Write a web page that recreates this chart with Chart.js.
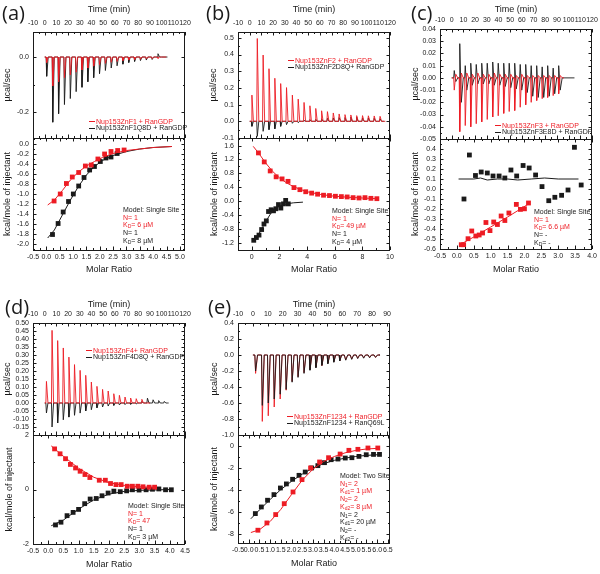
<!DOCTYPE html>
<html>
<head>
<meta charset="utf-8">
<script src="https://cdn.jsdelivr.net/npm/chart.js@4.4.1/dist/chart.umd.min.js"></script>
<style>
    body { margin: 0; background: #fff; }
    #fig { position: relative; width: 600px; height: 574px; overflow: hidden; font-family: 'Liberation Sans', Arial, sans-serif; color: #1a1a1a; }
    #fig canvas { position: absolute; left: 0; top: 0; }
    .tag { position: absolute; font-family: 'Open Sans', sans-serif; font-size: 20px; line-height: 22px; }
    .leg { position: absolute; font-size: 7px; line-height: 6.7px; white-space: nowrap; }
    .leg i { display: inline-block; width: 6px; height: 1.2px; vertical-align: middle; margin-right: 1px; }
    .note { position: absolute; font-size: 7px; line-height: 7.7px; white-space: nowrap; }
    .note sub { font-size: 5px; line-height: 0; vertical-align: -1px; }
    .r { color: #ed1c24; }
</style>
</head>
<body>
<div id="fig"></div>
<script>
// ---- shared tick labels ----
const timeTicks = [-10, 0, 10, 20, 30, 40, 50, 60, 70, 80, 90, 100, 110, 120];
const timeTicksE = [-10, 0, 10, 20, 30, 40, 50, 60, 70, 80, 90];

// ---- (a) Nup153ZnF1 ----
const aTimes = [1.2, 6.4, 11.4, 16.4, 21.4, 26.4, 31.4, 36.4, 41.4, 46.4, 51.4, 56.4, 61.4, 66.4, 71.4, 76.4, 81.4, 86.4, 91.4, 96.4];
const aRedPeaks = [-0.02, -0.105, -0.09, -0.075, -0.065, -0.055, -0.047, -0.04, -0.033, -0.028, -0.023, -0.019, -0.016, -0.013, -0.011, -0.009, -0.008, -0.007, -0.006, -0.005];
const aBlackPeaks = [-0.07, -0.237, -0.206, -0.173, -0.151, -0.126, -0.11, -0.09, -0.075, -0.061, -0.049, -0.04, -0.032, -0.026, -0.02, -0.016, -0.013, -0.011, -0.009, 0.012];
const aRedRatio = [0.29, 0.52, 0.75, 0.97, 1.21, 1.46, 1.68, 1.93, 2.18, 2.42, 2.67, 2.91];
const aRedHeat = [-1.14, -1.0, -0.79, -0.66, -0.57, -0.44, -0.42, -0.30, -0.20, -0.15, -0.13, -0.12];
const aBlackRatio = [0.23, 0.44, 0.63, 0.83, 1.01, 1.21, 1.41, 1.62, 1.80, 2.02, 2.23, 2.42, 2.65];
const aBlackHeat = [-1.81, -1.59, -1.36, -1.15, -1.0, -0.84, -0.67, -0.52, -0.45, -0.35, -0.28, -0.26, -0.19];
const aRedFitX = [0.05, 0.3, 0.6, 0.9, 1.2, 1.5, 1.8, 2.1, 2.5, 3.0, 3.5, 4.0, 4.7];
const aRedFitY = [-1.22, -1.12, -0.93, -0.72, -0.56, -0.44, -0.35, -0.27, -0.19, -0.13, -0.10, -0.07, -0.05];
const aBlackFitX = [0.05, 0.3, 0.6, 0.9, 1.2, 1.5, 1.8, 2.1, 2.5, 3.0, 3.5, 4.0, 4.7];
const aBlackFitY = [-1.88, -1.72, -1.42, -1.12, -0.85, -0.62, -0.45, -0.33, -0.23, -0.15, -0.10, -0.07, -0.05];

// ---- (b) Nup153ZnF2 ----
const bTimes = [1.4, 6, 11, 16, 21, 26, 31, 36, 41, 46, 51, 56, 61, 66, 71, 76, 81, 86, 91, 96, 101, 106, 111];
const bRedPeaks = [0.157, 0.496, 0.397, 0.315, 0.258, 0.226, 0.202, 0.157, 0.133, 0.113, 0.093, 0.077, 0.063, 0.058, 0.05, 0.044, 0.04, 0.038, 0.034, 0.034, 0.033, 0.032, 0.03];
const bBlackPeaks = [-0.03, -0.09, -0.06, -0.05, -0.045, -0.03, -0.02, -0.012, -0.008, 0.005, 0.01, 0.012, 0.015, 0.018, 0.02, 0.022, 0.022, 0.025, 0.025, 0.02, 0.02, 0.018, 0.015];
const bRedRatio = [0.48, 0.9, 1.33, 1.76, 2.19, 2.62, 3.05, 3.48, 3.9, 4.33, 4.76, 5.19, 5.62, 6.05, 6.48, 6.9, 7.33, 7.76, 8.19, 8.62, 9.05];
const bRedHeat = [1.39, 1.13, 0.87, 0.70, 0.64, 0.57, 0.39, 0.33, 0.27, 0.23, 0.20, 0.17, 0.16, 0.14, 0.13, 0.12, 0.10, 0.09, 0.10, 0.08, 0.07];
const bBlackRatio = [0.14, 0.33, 0.52, 0.71, 0.88, 1.05, 1.21, 1.4, 1.57, 1.74, 1.93, 2.1, 2.29, 2.45, 2.64];
const bBlackHeat = [-1.13, -1.05, -0.98, -0.82, -0.66, -0.57, -0.30, -0.25, -0.28, -0.22, -0.10, -0.20, -0.08, 0.02, -0.08];
const bRedFitX = [0.1, 0.5, 1, 1.5, 2, 2.5, 3, 3.5, 4, 5, 6, 7, 8, 9.1];
const bRedFitY = [1.58, 1.38, 1.10, 0.86, 0.67, 0.53, 0.42, 0.34, 0.27, 0.19, 0.14, 0.11, 0.09, 0.07];
const bBlackFitX = [0.1, 0.5, 1, 1.3, 1.6, 2, 2.5, 3, 3.7];
const bBlackFitY = [-1.18, -0.95, -0.60, -0.40, -0.25, -0.15, -0.08, -0.05, -0.03];

// ---- (c) Nup153ZnF3 ----
const cTimes = [1.7, 6.4, 11.1, 15.8, 20.5, 25.2, 29.9, 34.6, 39.3, 44, 48.7, 53.4, 58.1, 62.8, 67.5, 72.2, 76.9, 81.6, 86.3, 91];
const cRedPeaks = [-0.01, -0.044, -0.039, -0.04, -0.0375, -0.036, -0.034, -0.032, -0.031, -0.029, -0.0275, -0.0267, -0.024, -0.022, -0.02, -0.0185, -0.017, -0.016, -0.0145, -0.013];
const cRedOver = [0.003, 0.004, 0.004, 0.003, 0.004, 0.003, 0.003, 0.004, 0.003, 0.003, 0.003, 0.002, 0.003, 0.002, 0.002, 0.002, 0.002, 0.002, 0.002, 0.002];
const cBlackPeaks = [0.006, 0.028, 0.01, 0.012, 0.011, 0.012, 0.012, 0.013, 0.012, 0.012, 0.012, 0.012, 0.011, 0.011, 0.01, 0.01, 0.009, 0.01, 0.008, 0.01];
const cBlackDips = [-0.003, -0.02, -0.01, -0.006, -0.005, -0.005, -0.005, -0.006, -0.006, -0.007, -0.008, -0.009, -0.01, -0.012, -0.015, -0.016, -0.016, -0.015, -0.013, -0.01];
const cRedRatio = [0.13, 0.20, 0.33, 0.44, 0.56, 0.66, 0.76, 0.86, 0.98, 1.09, 1.20, 1.31, 1.42, 1.54, 1.76, 1.88, 2.0, 2.12];
const cRedHeat = [-0.557, -0.557, -0.497, -0.42, -0.47, -0.46, -0.44, -0.335, -0.416, -0.33, -0.355, -0.27, -0.315, -0.24, -0.154, -0.204, -0.198, -0.14];
const cBlackRatio = [0.21, 0.37, 0.55, 0.72, 0.90, 1.07, 1.25, 1.42, 1.60, 1.77, 1.96, 2.14, 2.33, 2.52, 2.72, 2.90, 3.10, 3.29, 3.48, 3.68];
const cBlackHeat = [-0.10, 0.34, 0.135, 0.17, 0.16, 0.13, 0.13, 0.11, 0.19, 0.13, 0.235, 0.21, 0.14, 0.024, -0.117, -0.083, -0.063, -0.01, 0.417, 0.04];
const cRedFitX = [0.1, 0.5, 1.0, 1.5, 2.12];
const cRedFitY = [-0.555, -0.48, -0.38, -0.28, -0.15];
const cBlackFitX = [0.05, 0.5, 0.7, 0.9, 1.2, 1.5, 1.8, 2.2, 2.6, 3.0, 3.6];
const cBlackFitY = [0.10, 0.10, 0.11, 0.09, 0.10, 0.10, 0.09, 0.10, 0.11, 0.10, 0.10];

// ---- (d) Nup153ZnF4 ----
const dTimes = [1, 5.8, 10.6, 15.4, 20.2, 25, 29.8, 34.6, 39.4, 44.2, 49, 53.8, 58.6, 63.4, 68.2, 73, 77.8, 82.6, 87.4, 92.2, 97, 101.8];
const dRedPeaks = [0.135, 0.454, 0.39, 0.344, 0.287, 0.24, 0.204, 0.173, 0.131, 0.104, 0.085, 0.075, 0.058, 0.048, 0.0375, 0.031, 0.027, 0.023];
const dBlackPeaks = [-0.0625, -0.15, -0.125, -0.105, -0.088, -0.077, -0.063, -0.05, -0.042, -0.03, -0.025, -0.019, -0.015, -0.012, -0.01, -0.008, -0.006, 0.01, 0.03, 0.02, 0.015, 0.01];
const dRedRatio = [0.21, 0.39, 0.57, 0.73, 0.90, 1.05, 1.21, 1.37, 1.68, 1.88, 2.05, 2.23, 2.40, 2.60, 2.77, 2.95, 3.12, 3.32, 3.5];
const dRedHeat = [1.49, 1.31, 1.13, 0.92, 0.79, 0.67, 0.55, 0.44, 0.34, 0.34, 0.22, 0.18, 0.18, 0.12, 0.12, 0.12, 0.10, 0.085, 0.085];
const dBlackRatio = [0.24, 0.42, 0.62, 0.82, 1.0, 1.2, 1.38, 1.58, 1.77, 1.97, 2.16, 2.37, 2.58, 2.77, 2.99, 3.22, 3.43, 3.64, 3.86, 4.05];
const dBlackHeat = [-1.30, -1.20, -0.96, -0.84, -0.73, -0.52, -0.35, -0.33, -0.23, -0.13, -0.06, -0.08, -0.05, -0.01, -0.02, -0.01, 0.01, 0.02, -0.01, -0.01];
const dRedFitX = [0.1, 0.5, 1.0, 1.5, 2.0, 2.5, 3.0, 3.5];
const dRedFitY = [1.60, 1.22, 0.78, 0.45, 0.25, 0.15, 0.10, 0.08];
const dBlackFitX = [0.1, 0.5, 1.0, 1.5, 2.0, 2.5, 3.0, 4.05];
const dBlackFitY = [-1.33, -1.12, -0.72, -0.38, -0.17, -0.07, -0.03, 0.0];

// ---- (e) Nup153ZnF1234 ----
const eTimes = [1.3, 5.8, 9.8, 13.8, 17.8, 21.8, 25.8, 29.8, 33.8, 37.8, 41.8, 45.8, 49.8, 53.8, 57.8, 61.8, 65.8, 69.8, 73.8, 77.8, 81.8];
const eRedPeaks = [-0.23, -0.83, -0.76, -0.65, -0.55, -0.44, -0.33, -0.27, -0.22, -0.18, -0.15, -0.13, -0.10, -0.08, -0.07, -0.06, -0.05, -0.04, -0.035, -0.03, -0.03];
const eBlackPeaks = [-0.2, -0.63, -0.6, -0.55, -0.49, -0.43, -0.34, -0.28, -0.23, -0.19, -0.16, -0.13, -0.11, -0.09, -0.075, -0.065, -0.055, -0.045, -0.04, -0.035, -0.03];
const eRedRatio = [0.43, 0.85, 1.26, 1.66, 2.07, 2.49, 2.89, 3.31, 3.73, 4.27, 4.68, 5.1, 5.57, 6.03];
const eRedHeat = [-7.64, -6.98, -6.22, -5.23, -4.17, -3.05, -1.99, -1.45, -1.06, -0.73, -0.39, -0.30, -0.18, -0.18];
const eBlackRatio = [0.31, 0.59, 0.88, 1.18, 1.48, 1.76, 2.05, 2.35, 2.64, 2.94, 3.23, 3.54, 3.85, 4.17, 4.51, 4.82, 5.15, 5.49, 5.83, 6.11];
const eBlackHeat = [-6.13, -5.53, -4.92, -4.41, -3.81, -3.44, -3.02, -2.66, -2.36, -1.99, -1.78, -1.51, -1.24, -1.18, -1.09, -1.06, -0.94, -0.79, -0.76, -0.76];
const eRedFitX = [0.1, 0.5, 1.0, 1.5, 2.0, 2.5, 3.0, 3.5, 4.0, 4.5, 5.0, 5.5, 6.1];
const eRedFitY = [-7.85, -7.6, -6.85, -5.75, -4.4, -3.1, -2.1, -1.4, -0.95, -0.62, -0.40, -0.27, -0.20];
const eBlackFitX = [0.1, 0.5, 1.0, 1.5, 2.0, 2.5, 3.0, 3.5, 4.0, 4.5, 5.0, 5.5, 6.1];
const eBlackFitY = [-6.6, -5.8, -4.85, -3.95, -3.2, -2.55, -2.0, -1.6, -1.3, -1.1, -0.95, -0.85, -0.78];

const RED = '#ed1c24';
const BLACK = '#1a1a1a';
const W = 600, H = 574;
const fig = document.getElementById('fig');

Chart.defaults.font.family = "'Liberation Sans', Arial, sans-serif";
Chart.defaults.color = '#1a1a1a';

// frame round the plot area with small inward ticks on every side
const framePlugin = {
    id: 'frame',
    afterDraw(chart) {
        const { ctx, chartArea: a, scales } = chart;
        const marks = scale => {
            const v = scale.ticks.map(t => t.value);
            const out = [];
            const step = v.length > 1 ? v[1] - v[0] : 0;
            if (step && v[0] - step / 2 >= scale.min) out.push([v[0] - step / 2, 2]);
            v.forEach((x, i) => {
                out.push([x, 3.5]);
                const next = i < v.length - 1 ? v[i + 1] : x + step;
                if (step && (x + next) / 2 <= scale.max) out.push([(x + next) / 2, 2]);
            });
            return out;
        };
        ctx.save();
        ctx.strokeStyle = BLACK;
        ctx.lineWidth = 1;
        ctx.strokeRect(a.left + 0.5, a.top + 0.5, a.right - a.left - 1, a.bottom - a.top);
        ctx.beginPath();
        marks(scales.x).forEach(([v, len]) => {
            const px = Math.round(scales.x.getPixelForValue(v)) + 0.5;
            ctx.moveTo(px, a.top); ctx.lineTo(px, a.top + len);
            ctx.moveTo(px, a.bottom); ctx.lineTo(px, a.bottom - len);
        });
        marks(scales.y).forEach(([v, len]) => {
            const py = Math.round(scales.y.getPixelForValue(v)) + 0.5;
            ctx.moveTo(a.left, py); ctx.lineTo(a.left + len, py);
            ctx.moveTo(a.right, py); ctx.lineTo(a.right - len, py);
        });
        ctx.stroke();
        ctx.restore();
    }
};

// raw injection trace: baseline, sharp peak, return (with optional overshoot)
function trace(times, peaks, over, endT) {
    const pts = [{ x: 0, y: 0 }];
    peaks.forEach((v, i) => {
        const t = times[i];
        pts.push({ x: t, y: 0 }, { x: t + 0.5, y: v }, { x: t + 1.8, y: over ? over[i] : 0 }, { x: t + 3.5, y: 0 });
    });
    pts.push({ x: endT, y: 0 });
    return pts;
}

function xy(xs, ys) {
    return xs.map((x, i) => ({ x: x, y: ys[i] }));
}

function lineSet(data, color, width) {
    return { data: data, showLine: true, borderColor: color, borderWidth: width, pointRadius: 0, tension: 0 };
}

function pointSet(data, color) {
    return { data: data, showLine: false, pointStyle: 'rect', pointRadius: 3.4, backgroundColor: color, borderColor: color, borderWidth: 0 };
}

function axis(position, min, max, ticks, dec, title, size, pad) {
    const horiz = position !== 'left';
    return {
        type: 'linear',
        position: position,
        min: min,
        max: max,
        grid: { display: false, drawTicks: false },
        border: { display: false },
        ticks: {
            font: { size: 7 },
            padding: pad,
            autoSkip: false,
            maxRotation: 0,
            callback: v => v.toFixed(dec)
        },
        title: { display: true, text: title, font: { size: 9 }, padding: 0 },
        afterBuildTicks: s => { s.ticks = ticks.map(v => ({ value: v })); },
        afterFit: s => {
            if (horiz) s.height = size; else s.width = size;
            s.paddingLeft = s.paddingRight = s.paddingTop = s.paddingBottom = 0;
        }
    };
}

function makeChart(o) {
    const cv = document.createElement('canvas');
    cv.width = W;
    cv.height = H;
    fig.appendChild(cv);
    const lh = 10.8;
    const padLeft = o.yTitleX - lh / 2;
    let padTop, padBottom, xH;
    if (o.xPos === 'top') {
        padTop = o.xTitleY - lh / 2;
        xH = o.area.t - padTop;
        padBottom = H - o.area.b;
    } else {
        padTop = o.area.t;
        xH = o.xTitleY + lh / 2 - o.area.b;
        padBottom = H - (o.xTitleY + lh / 2);
    }
    return new Chart(cv, {
        type: 'scatter',
        data: { datasets: o.datasets },
        options: {
            responsive: false,
            animation: false,
            events: [],
            layout: { padding: { left: padLeft, right: W - o.area.r, top: padTop, bottom: padBottom } },
            plugins: { legend: { display: false }, tooltip: { enabled: false } },
            scales: {
                x: axis(o.xPos, o.xMin, o.xMax, o.xTicks, 0, o.xTitle, xH, o.xPos === 'top' ? 5 : 3),
                y: axis('left', o.yMin, o.yMax, o.yTicks, o.yDec, o.yTitle, o.area.l - padLeft, 4)
            }
        },
        plugins: [framePlugin]
    });
}

function ratioChart(o) {
    const c = makeChart(o);
    c.options.scales.x.ticks.callback = v => v.toFixed(o.xDec);
    c.update();
    return c;
}

function addHtml(cls, x, y, html) {
    const d = document.createElement('div');
    d.className = cls;
    d.style.left = x + 'px';
    d.style.top = y + 'px';
    d.innerHTML = html;
    fig.appendChild(d);
}

const ucal = '\u00b5cal/sec';
const kcal = 'kcal/mole of injectant';

// ---------- (a) ----------
makeChart({
    area: { l: 33, r: 185, t: 32, b: 138 }, xPos: 'top', xTitle: 'Time (min)', xTitleY: 10,
    xMin: -10, xMax: 120, xTicks: timeTicks,
    yTitle: ucal, yTitleX: 8, yMin: -0.2945, yMax: 0.091, yTicks: [-0.2, 0.0], yDec: 1,
    datasets: [
        lineSet(trace(aTimes, aRedPeaks, null, 104), RED, 0.9),
        lineSet(trace(aTimes, aBlackPeaks, null, 105), BLACK, 0.9)
    ]
});
ratioChart({
    area: { l: 33, r: 185, t: 138, b: 250 }, xPos: 'bottom', xTitle: 'Molar Ratio', xTitleY: 270,
    xMin: -0.5, xMax: 5.19, xTicks: [-0.5, 0, 0.5, 1, 1.5, 2, 2.5, 3, 3.5, 4, 4.5, 5], xDec: 1,
    yTitle: kcal, yTitleX: 8, yMin: -2.12, yMax: 0.12,
    yTicks: [-2.0, -1.8, -1.6, -1.4, -1.2, -1.0, -0.8, -0.6, -0.4, -0.2, 0.0], yDec: 1,
    datasets: [
        pointSet(xy(aRedRatio, aRedHeat), RED),
        lineSet(xy(aRedFitX, aRedFitY), RED, 1),
        pointSet(xy(aBlackRatio, aBlackHeat), BLACK),
        lineSet(xy(aBlackFitX, aBlackFitY), BLACK, 1)
    ]
});

// ---------- (b) ----------
makeChart({
    area: { l: 238, r: 390, t: 32, b: 138 }, xPos: 'top', xTitle: 'Time (min)', xTitleY: 10,
    xMin: -10, xMax: 120, xTicks: timeTicks,
    yTitle: ucal, yTitleX: 214, yMin: -0.1, yMax: 0.535, yTicks: [-0.1, 0, 0.1, 0.2, 0.3, 0.4, 0.5], yDec: 1,
    datasets: [
        lineSet(trace(bTimes, bRedPeaks, null, 116), RED, 0.9),
        lineSet(trace(bTimes, bBlackPeaks, null, 115), BLACK, 0.9)
    ]
});
ratioChart({
    area: { l: 238, r: 390, t: 138, b: 250 }, xPos: 'bottom', xTitle: 'Molar Ratio', xTitleY: 270,
    xMin: -1, xMax: 10, xTicks: [0, 2, 4, 6, 8, 10], xDec: 0,
    yTitle: kcal, yTitleX: 215, yMin: -1.41, yMax: 1.82,
    yTicks: [-1.2, -0.8, -0.4, 0.0, 0.4, 0.8, 1.2, 1.6], yDec: 1,
    datasets: [
        pointSet(xy(bRedRatio, bRedHeat), RED),
        lineSet(xy(bRedFitX, bRedFitY), RED, 1),
        pointSet(xy(bBlackRatio, bBlackHeat), BLACK),
        lineSet(xy(bBlackFitX, bBlackFitY), BLACK, 1)
    ]
});

// ---------- (c) ----------
makeChart({
    area: { l: 440, r: 592, t: 29, b: 139 }, xPos: 'top', xTitle: 'Time (min)', xTitleY: 10,
    xMin: -10, xMax: 120, xTicks: timeTicks,
    yTitle: ucal, yTitleX: 416, yMin: -0.05, yMax: 0.04,
    yTicks: [-0.05, -0.04, -0.03, -0.02, -0.01, 0.0, 0.01, 0.02, 0.03, 0.04], yDec: 2,
    datasets: [
        lineSet(trace(cTimes, cRedPeaks, cRedOver, 96), RED, 0.9),
        lineSet(trace(cTimes, cBlackPeaks, cBlackDips, 105), BLACK, 0.9)
    ]
});
ratioChart({
    area: { l: 440, r: 592, t: 139, b: 249 }, xPos: 'bottom', xTitle: 'Molar Ratio', xTitleY: 270,
    xMin: -0.5, xMax: 4.0, xTicks: [-0.5, 0, 0.5, 1, 1.5, 2, 2.5, 3, 3.5, 4], xDec: 1,
    yTitle: kcal, yTitleX: 416, yMin: -0.6, yMax: 0.5,
    yTicks: [-0.6, -0.5, -0.4, -0.3, -0.2, -0.1, 0.0, 0.1, 0.2, 0.3, 0.4], yDec: 1,
    datasets: [
        pointSet(xy(cRedRatio, cRedHeat), RED),
        lineSet(xy(cRedFitX, cRedFitY), RED, 1),
        pointSet(xy(cBlackRatio, cBlackHeat), BLACK),
        lineSet(xy(cBlackFitX, cBlackFitY), BLACK, 1)
    ]
});

// ---------- (d) ----------
makeChart({
    area: { l: 33, r: 185, t: 323, b: 435 }, xPos: 'top', xTitle: 'Time (min)', xTitleY: 305,
    xMin: -10, xMax: 120, xTicks: timeTicks,
    yTitle: ucal, yTitleX: 8, yMin: -0.2, yMax: 0.5,
    yTicks: [-0.15, -0.1, -0.05, 0, 0.05, 0.1, 0.15, 0.2, 0.25, 0.3, 0.35, 0.4, 0.45, 0.5], yDec: 2,
    datasets: [
        lineSet(trace(dTimes, dRedPeaks, null, 90), RED, 0.9),
        lineSet(trace(dTimes, dBlackPeaks, null, 106), BLACK, 0.9)
    ]
});
ratioChart({
    area: { l: 33, r: 185, t: 435, b: 544 }, xPos: 'bottom', xTitle: 'Molar Ratio', xTitleY: 565,
    xMin: -0.5, xMax: 4.5, xTicks: [-0.5, 0, 0.5, 1, 1.5, 2, 2.5, 3, 3.5, 4, 4.5], xDec: 1,
    yTitle: kcal, yTitleX: 10, yMin: -2, yMax: 2, yTicks: [-2, 0, 2], yDec: 0,
    datasets: [
        pointSet(xy(dRedRatio, dRedHeat), RED),
        lineSet(xy(dRedFitX, dRedFitY), RED, 1),
        pointSet(xy(dBlackRatio, dBlackHeat), BLACK),
        lineSet(xy(dBlackFitX, dBlackFitY), BLACK, 1)
    ]
});

// ---------- (e) ----------
makeChart({
    area: { l: 238, r: 390, t: 323, b: 435 }, xPos: 'top', xTitle: 'Time (min)', xTitleY: 305,
    xMin: -10, xMax: 92, xTicks: timeTicksE,
    yTitle: ucal, yTitleX: 215, yMin: -1.0, yMax: 0.4,
    yTicks: [-1.0, -0.8, -0.6, -0.4, -0.2, 0.0, 0.2, 0.4], yDec: 1,
    datasets: [
        lineSet(trace(eTimes, eBlackPeaks, null, 85), BLACK, 0.9),
        lineSet(trace(eTimes, eRedPeaks, null, 85), RED, 0.9)
    ]
});
ratioChart({
    area: { l: 238, r: 390, t: 435, b: 543 }, xPos: 'bottom', xTitle: 'Molar Ratio', xTitleY: 564,
    xMin: -0.5, xMax: 6.6, xTicks: [-0.5, 0, 0.5, 1, 1.5, 2, 2.5, 3, 3.5, 4, 4.5, 5, 5.5, 6, 6.5], xDec: 1,
    yTitle: kcal, yTitleX: 215, yMin: -8.8, yMax: 1, yTicks: [-8, -6, -4, -2, 0], yDec: 0,
    datasets: [
        pointSet(xy(eRedRatio, eRedHeat), RED),
        lineSet(xy(eRedFitX, eRedFitY), RED, 1),
        pointSet(xy(eBlackRatio, eBlackHeat), BLACK),
        lineSet(xy(eBlackFitX, eBlackFitY), BLACK, 1)
    ]
});

// ---------- panel letters ----------
addHtml('tag', 2, 2, '(a)');
addHtml('tag', 206, 2, '(b)');
addHtml('tag', 411, 2, '(c)');
addHtml('tag', 5, 296, '(d)');
addHtml('tag', 208, 296, '(e)');

// ---------- legends ----------
function legend(x, y, redText, blackText) {
    addHtml('leg', x, y - 3.4,
        '<span class="r"><i style="background:' + RED + '"></i>' + redText + '</span><br>' +
        '<span><i style="background:' + BLACK + '"></i>' + blackText + '</span>');
}
legend(89, 122, 'Nup153ZnF1 + RanGDP', 'Nup153ZnF1Q8D + RanGDP');
legend(288, 61, 'Nup153ZnF2 + RanGDP', 'Nup153ZnF2D8Q+ RanGDP');
legend(495, 126, 'Nup153ZnF3 + RanGDP', 'Nup153ZnF3E8D + RanGDP');
legend(86, 351, 'Nup153ZnF4+ RanGDP', 'Nup153ZnF4D8Q + RanGDP');
legend(287, 417, 'Nup153ZnF1234 + RanGDP', 'Nup153ZnF1234 + RanQ69L');

// ---------- fit results ----------
addHtml('note', 123, 206, 'Model: Single Site<br><span class="r">N= 1<br>K<sub>D</sub>= 6 \u00b5M</span><br>N= 1<br>K<sub>D</sub>= 8 \u00b5M');
addHtml('note', 332, 207, 'Model: Single Site<br><span class="r">N= 1<br>K<sub>D</sub>= 49 \u00b5M</span><br>N= 1<br>K<sub>D</sub>= 4 \u00b5M');
addHtml('note', 534, 208, 'Model: Single Site<br><span class="r">N= 1<br>K<sub>D</sub>= 6.6 \u00b5M</span><br>N= -<br>K<sub>D</sub>= -');
addHtml('note', 128, 502, 'Model: Single Site<br><span class="r">N= 1<br>K<sub>D</sub>= 47</span><br>N= 1<br>K<sub>D</sub>= 3 \u00b5M');
addHtml('note', 340, 472, 'Model: Two Site<br><span class="r">N<sub>1</sub>= 2<br>K<sub>d1</sub>= 1 \u00b5M<br>N<sub>2</sub>= 2<br>K<sub>d2</sub>= 8 \u00b5M</span><br>N<sub>1</sub>= 2<br>K<sub>d1</sub>= 20 \u00b5M<br>N<sub>2</sub>= -<br>K<sub>d2</sub>= -');
</script>
</body>
</html>
